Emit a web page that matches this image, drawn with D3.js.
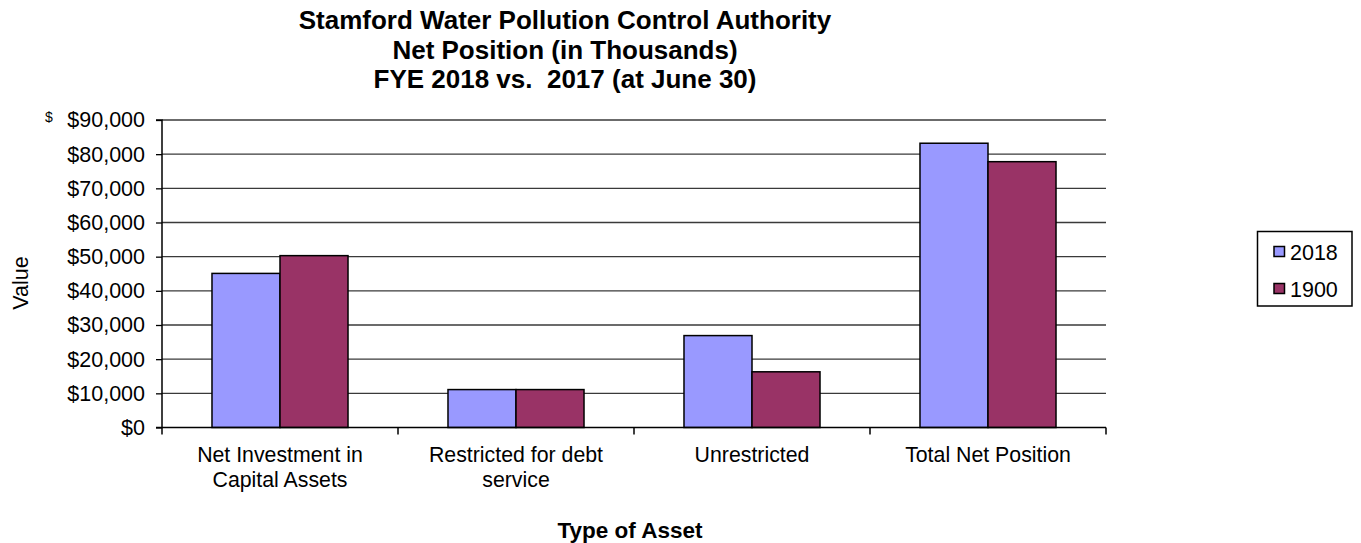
<!DOCTYPE html>
<html>
<head>
<meta charset="utf-8">
<script src="https://cdn.jsdelivr.net/npm/d3@7"></script>
<style>
  html, body { margin: 0; padding: 0; background: #fff; }
  svg { display: block; font-family: "Liberation Sans", Arial, sans-serif; }
</style>
</head>
<body>
<svg id="chart" width="1361" height="543"></svg>
<script>
const categories = [["Net Investment in", "Capital Assets"], ["Restricted for debt", "service"], ["Unrestricted"], ["Total Net Position"]];
const seriesNames = ["2018", "1900"];
const values2018 = [45100, 11100, 26900, 83200];
const values1900 = [50300, 11100, 16300, 77800];
const yTicks = [0, 10000, 20000, 30000, 40000, 50000, 60000, 70000, 80000, 90000];
const titleLines = ["Stamford Water Pollution Control Authority", "Net Position (in Thousands)", "FYE 2018 vs.  2017 (at June 30)"];
const colors = ["#9999FF", "#993366"];

const svg = d3.select("#chart");
const pLeft = 162, pRight = 1106, pTop = 120, pBottom = 427.5;

const x = d3.scaleBand().domain(d3.range(categories.length)).range([pLeft, pRight]).paddingInner(0).paddingOuter(0);
const inner = d3.scaleBand().domain(seriesNames).range([0, x.bandwidth()]).paddingInner(0).paddingOuter(0.735);
const y = d3.scaleLinear().domain([0, 90000]).range([pBottom, pTop]);

// gridlines
svg.append("g").selectAll("line").data(yTicks.slice(1)).join("line")
  .attr("x1", pLeft).attr("x2", pRight)
  .attr("y1", d => y(d)).attr("y2", d => y(d))
  .attr("stroke", "#3a3a3a").attr("stroke-width", 1.3);

// bars
const data = seriesNames.map((s, i) => ({ name: s, vals: i === 0 ? values2018 : values1900, color: colors[i] }));
const g = svg.append("g");
data.forEach(s => {
  g.selectAll(null).data(s.vals).join("rect")
    .attr("x", (d, i) => x(i) + inner(s.name))
    .attr("y", d => y(d))
    .attr("width", inner.bandwidth())
    .attr("height", d => y(0) - y(d))
    .attr("fill", s.color)
    .attr("stroke", "#000").attr("stroke-width", 1.5);
});

// y axis
const yAxis = d3.axisLeft(y).tickValues(yTicks).tickSize(6).tickPadding(11)
  .tickFormat(d => "$" + d3.format(",")(d));
const ya = svg.append("g").attr("transform", `translate(${pLeft},0)`).call(yAxis);
ya.select(".domain").attr("stroke", "#000").attr("stroke-width", 1.5).attr("d", `M-6,${pTop}H0V${pBottom}H-6`);
ya.selectAll(".tick line").attr("stroke", "#000").attr("stroke-width", 1.3);
ya.selectAll(".tick text").attr("font-size", 21.5).attr("fill", "#000")
  .attr("font-family", "Liberation Sans, Arial, sans-serif");

// x axis
const xEdges = d3.range(categories.length + 1).map(i => pLeft + i * x.bandwidth());
svg.append("line").attr("x1", pLeft).attr("x2", pRight).attr("y1", pBottom).attr("y2", pBottom)
  .attr("stroke", "#000").attr("stroke-width", 1.5);
svg.append("g").selectAll("line").data(xEdges).join("line")
  .attr("x1", d => d).attr("x2", d => d).attr("y1", pBottom).attr("y2", pBottom + 7)
  .attr("stroke", "#000").attr("stroke-width", 1.5);

// category labels
const cl = svg.append("g").attr("font-size", 21.3).attr("fill", "#000").attr("text-anchor", "middle");
categories.forEach((lines, i) => {
  lines.forEach((ln, j) => {
    cl.append("text").attr("x", x(i) + x.bandwidth() / 2).attr("y", 462 + j * 25).text(ln);
  });
});

// titles
const tt = svg.append("g").attr("font-size", 26).attr("font-weight", "bold").attr("text-anchor", "middle");
titleLines.forEach((t, i) => {
  tt.append("text").attr("x", 565).attr("y", 29 + i * 29.5).attr("xml:space", "preserve").text(t);
});

// axis titles
svg.append("text").attr("x", 630).attr("y", 538).attr("font-size", 22.5).attr("font-weight", "bold")
  .attr("text-anchor", "middle").text("Type of Asset");
svg.append("text").attr("transform", "translate(28,283) rotate(-90)").attr("font-size", 21.5)
  .attr("text-anchor", "middle").text("Value");
svg.append("text").attr("x", 49).attr("y", 122).attr("font-size", 14).attr("text-anchor", "middle").text("$");

// legend
const lg = svg.append("g");
lg.append("rect").attr("x", 1257.5).attr("y", 231.5).attr("width", 94.5).attr("height", 74.5)
  .attr("fill", "#fff").attr("stroke", "#000").attr("stroke-width", 1.5);
data.forEach((s, i) => {
  lg.append("rect").attr("x", 1274).attr("y", 246.5 + i * 37).attr("width", 10.5).attr("height", 10)
    .attr("fill", s.color).attr("stroke", "#000").attr("stroke-width", 1.5);
  lg.append("text").attr("x", 1290).attr("y", 259.5 + i * 37).attr("font-size", 21.5).text(s.name);
});
</script>
</body>
</html>
